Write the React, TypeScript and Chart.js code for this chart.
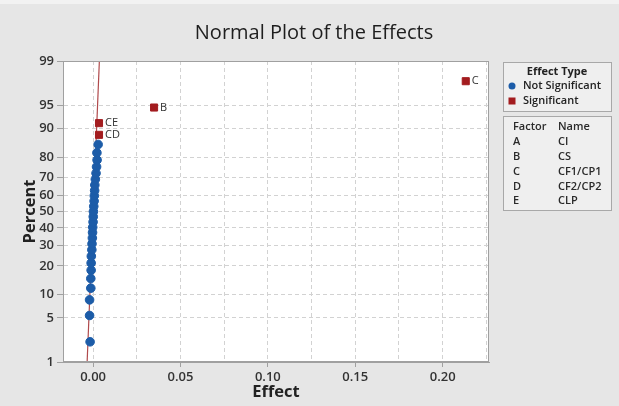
import { useEffect, useRef } from 'react';
import { Chart, registerables } from 'chart.js';
Chart.register(...registerables);

const chartTitle = 'Normal Plot of the Effects';
const percentTicks = [1, 5, 10, 20, 30, 40, 50, 60, 70, 80, 90, 95, 99];
const effectTicks = [0, 0.025, 0.05, 0.075, 0.1, 0.125, 0.15, 0.175, 0.2, 0.225];
const effectTickLabels = ['0.00', '', '0.05', '', '0.10', '', '0.15', '', '0.20', ''];

const nsEffects = [-0.0017, -0.002, -0.002, -0.0013, -0.0013, -0.0011, -0.0011, -0.001, -0.0007, -0.0006, -0.0004, -0.0003, -0.0002, 0.0, 0.0001, 0.0002, 0.0004, 0.0006, 0.0007, 0.0009, 0.001, 0.0013, 0.0017, 0.002, 0.0023, 0.0022, 0.0029];
const nsPercents = [2.2, 5.4, 8.6, 11.8, 15.0, 18.2, 21.3, 24.5, 27.7, 30.9, 34.1, 37.3, 40.4, 43.6, 46.8, 50.0, 53.2, 56.4, 59.6, 62.7, 65.9, 69.1, 72.3, 75.5, 78.7, 81.8, 85.0];

const sigNames = ['CD', 'CE', 'B', 'C'];
const sigEffects = [0.0034, 0.0034, 0.0349, 0.2132];
const sigPercents = [88.2, 91.4, 94.6, 97.8];

const lineEffects = [-0.0034, 0.0036];
const linePercents = [1, 99];

const legendTitle = 'Effect Type';
const legendTypes = ['Not Significant', 'Significant'];
const factorHeader = ['Factor', 'Name'];
const factorLetters = ['A', 'B', 'C', 'D', 'E'];
const factorNames = ['CI', 'CS', 'CF1/CP1', 'CF2/CP2', 'CLP'];

const BLUE = '#1c5ca8';
const RED = '#a31c1f';
const LINE = '#b04a4c';
const FONT = '"Open Sans", "Noto Sans", sans-serif';

function normInv(p: number): number {
  const a = [-3.969683028665376e1, 2.209460984245205e2, -2.759285104469687e2, 1.38357751867269e2, -3.066479806614716e1, 2.506628277459239];
  const b = [-5.447609879822406e1, 1.615858368580409e2, -1.556989798598866e2, 6.680131188771972e1, -1.328068155288572e1];
  const c = [-7.784894002430293e-3, -3.223964580411365e-1, -2.400758277161838, -2.549732539343734, 4.374664141464968, 2.938163982698783];
  const d = [7.784695709041462e-3, 3.224671290700398e-1, 2.445134137142996, 3.754408661907416];
  const pl = 0.02425;
  const ph = 1 - pl;
  let q: number, r: number;
  if (p < pl) {
    q = Math.sqrt(-2 * Math.log(p));
    return (((((c[0] * q + c[1]) * q + c[2]) * q + c[3]) * q + c[4]) * q + c[5]) / ((((d[0] * q + d[1]) * q + d[2]) * q + d[3]) * q + 1);
  }
  if (p <= ph) {
    q = p - 0.5;
    r = q * q;
    return ((((((a[0] * r + a[1]) * r + a[2]) * r + a[3]) * r + a[4]) * r + a[5]) * q) / (((((b[0] * r + b[1]) * r + b[2]) * r + b[3]) * r + b[4]) * r + 1);
  }
  q = Math.sqrt(-2 * Math.log(1 - p));
  return -(((((c[0] * q + c[1]) * q + c[2]) * q + c[3]) * q + c[4]) * q + c[5]) / ((((d[0] * q + d[1]) * q + d[2]) * q + d[3]) * q + 1);
}
const zOf = (pct: number) => normInv(pct / 100);

const bgPlugin = {
  id: 'bgPlugin',
  beforeDraw(chart: any) {
    const { ctx, chartArea: ca, width, height } = chart;
    ctx.save();
    ctx.fillStyle = '#e6e6e6';
    ctx.fillRect(0, 0, width, height);
    ctx.fillStyle = '#f2f2f2';
    ctx.fillRect(0, 0, width, 4);
    ctx.fillStyle = '#ffffff';
    ctx.fillRect(ca.left, ca.top, ca.right - ca.left, ca.bottom - ca.top);
    ctx.fillStyle = '#1e1e1e';
    ctx.font = `20px ${FONT}`;
    ctx.textAlign = 'center';
    ctx.textBaseline = 'middle';
    ctx.fillText(chartTitle, 314, 33);
    ctx.restore();
  },
  afterDraw(chart: any) {
    const { ctx, chartArea: ca } = chart;
    ctx.save();
    ctx.strokeStyle = '#a0a0a0';
    ctx.lineWidth = 1;
    ctx.strokeRect(ca.left + 0.5, ca.top + 0.5, ca.right - ca.left - 1, ca.bottom - ca.top - 1);

    ctx.fillStyle = '#efefef';
    ctx.strokeStyle = '#a8a8a8';
    ctx.fillRect(503, 62, 108, 49);
    ctx.strokeRect(503.5, 62.5, 108, 49);
    ctx.fillRect(503, 116, 108, 94);
    ctx.strokeRect(503.5, 116.5, 108, 94);

    ctx.fillStyle = '#222';
    ctx.textBaseline = 'middle';
    ctx.font = `bold 11px ${FONT}`;
    ctx.textAlign = 'center';
    ctx.fillText(legendTitle, 557, 72);
    ctx.textAlign = 'left';
    ctx.font = `600 11px ${FONT}`;
    legendTypes.forEach((t, i) => {
      const y = 86 + i * 15;
      if (i === 0) {
        ctx.fillStyle = BLUE;
        ctx.beginPath();
        ctx.arc(512, y, 3.5, 0, Math.PI * 2);
        ctx.fill();
      } else {
        ctx.fillStyle = RED;
        ctx.fillRect(508.5, y - 3.5, 7, 7);
      }
      ctx.fillStyle = '#222';
      ctx.fillText(t, 523, y);
    });

    ctx.font = `600 11px ${FONT}`;
    ctx.fillStyle = '#2a2a2a';
    ctx.fillText(factorHeader[0], 513, 127);
    ctx.fillText(factorHeader[1], 558, 127);
    factorLetters.forEach((l, i) => {
      const y = 142 + i * 14.8;
      ctx.fillText(l, 513, y);
      ctx.fillText(factorNames[i], 558, y);
    });
    ctx.restore();
  },
  afterDatasetsDraw(chart: any) {
    const { ctx } = chart;
    const meta = chart.getDatasetMeta(1);
    ctx.save();
    ctx.fillStyle = '#333';
    ctx.font = `11px ${FONT}`;
    ctx.textBaseline = 'middle';
    ctx.textAlign = 'left';
    meta.data.forEach((pt: any, i: number) => {
      ctx.fillText(sigNames[i], pt.x + 6, pt.y);
    });
    ctx.restore();
  },
};

export default function App() {
  const ref = useRef<HTMLCanvasElement | null>(null);
  useEffect(() => {
    document.body.style.margin = '0';
    if (!ref.current) return;
    const chart = new Chart(ref.current, {
      type: 'scatter',
      data: {
        datasets: [
          {
            label: legendTypes[0],
            data: nsEffects.map((x, i) => ({ x, y: zOf(nsPercents[i]) })),
            backgroundColor: BLUE,
            borderColor: BLUE,
            pointRadius: 4.3,
            pointStyle: 'circle',
          },
          {
            label: legendTypes[1],
            data: sigEffects.map((x, i) => ({ x, y: zOf(sigPercents[i]) })),
            backgroundColor: RED,
            borderColor: RED,
            pointRadius: 5,
            pointStyle: 'rect',
          },
          {
            label: 'fit',
            data: lineEffects.map((x, i) => ({ x, y: zOf(linePercents[i]) })),
            showLine: true,
            borderColor: LINE,
            borderWidth: 1.2,
            pointRadius: 0,
          } as any,
        ],
      },
      options: {
        animation: false,
        responsive: true,
        maintainAspectRatio: false,
        layout: { padding: { left: 0, right: 130, top: 61, bottom: 0 } },
        plugins: {
          legend: { display: false },
          tooltip: { enabled: false },
          title: { display: false },
        },
        scales: {
          x: {
            type: 'linear',
            min: -0.0172,
            max: 0.2265,
            afterBuildTicks: (s: any) => {
              s.ticks = effectTicks.map((v) => ({ value: v }));
            },
            afterFit: (s: any) => {
              s.height = 44;
            },
            ticks: {
              callback: (_v: any, i: number) => effectTickLabels[i],
              color: '#333',
              font: { family: FONT, size: 13, weight: '600' },
              padding: 2,
              maxRotation: 0,
              autoSkip: false,
            },
            grid: {
              color: '#d2d2d2',
              tickLength: 5,
              tickColor: (ctx: any) => (effectTickLabels[ctx.index] ? '#a0a0a0' : 'rgba(0,0,0,0)'),
            },
            border: { display: true, color: '#a0a0a0', dash: [4, 3] },
            title: {
              display: true,
              text: 'Effect',
              color: '#222',
              font: { family: FONT, size: 16.5, weight: 'bold' },
              padding: { top: 0, bottom: 4 },
            },
          },
          y: {
            type: 'linear',
            min: zOf(1),
            max: zOf(99),
            afterBuildTicks: (s: any) => {
              s.ticks = percentTicks.map((p) => ({ value: zOf(p) }));
            },
            afterFit: (s: any) => {
              s.width = 63;
            },
            ticks: {
              callback: (_v: any, i: number) => String(percentTicks[i]),
              color: '#333',
              font: { family: FONT, size: 13, weight: '600' },
              padding: 3,
              autoSkip: false,
            },
            grid: {
              color: '#d2d2d2',
              tickLength: 6,
              tickColor: '#a0a0a0',
            },
            border: { display: true, color: '#a0a0a0', dash: [4, 3] },
            title: {
              display: true,
              text: 'Percent',
              color: '#222',
              font: { family: FONT, size: 16.5, weight: 'bold' },
              padding: { top: 20, bottom: 0 },
            },
          },
        },
      },
      plugins: [bgPlugin],
    });
    return () => chart.destroy();
  }, []);
  return (
    <div style={{ position: 'fixed', left: 0, top: 0, width: 619, height: 406 }}>
      <canvas ref={ref} />
    </div>
  );
}
